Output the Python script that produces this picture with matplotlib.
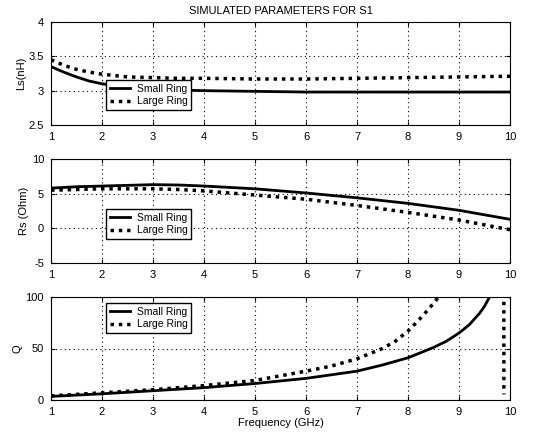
import matplotlib
matplotlib.use("Agg")
import matplotlib.pyplot as plt
import numpy as np

plt.rcParams['font.family'] = ['Liberation Sans', 'DejaVu Sans']
plt.rcParams['font.size'] = 8
plt.rcParams['axes.unicode_minus'] = False

# frequency points (GHz)
f = [1, 1.25, 1.5, 1.75, 2, 2.5, 3, 3.5, 4, 5, 6, 7, 8, 9, 10]

ls_small = [3.35, 3.27, 3.2, 3.14, 3.1, 3.05, 3.02, 3.01, 3.0, 2.99, 2.98, 2.98, 2.98, 2.98, 2.98]
ls_large = [3.45, 3.37, 3.31, 3.27, 3.24, 3.2, 3.19, 3.18, 3.18, 3.17, 3.17, 3.18, 3.19, 3.2, 3.21]

rs_small = [5.8, 5.9, 6.0, 6.05, 6.1, 6.2, 6.3, 6.25, 6.1, 5.7, 5.1, 4.4, 3.6, 2.6, 1.3]
rs_large = [5.5, 5.55, 5.6, 5.65, 5.7, 5.7, 5.7, 5.6, 5.4, 4.8, 4.2, 3.3, 2.3, 1.2, -0.2]

fq_small = [1, 2, 3, 4, 5, 6, 6.5, 7, 7.5, 8, 8.25, 8.5, 8.75, 9, 9.2, 9.4, 9.5, 9.6, 9.65]
q_small = [3.5, 6, 9, 12, 16, 21, 24.5, 28, 34, 41, 46, 51, 57, 65, 73, 84, 91, 100, 105]
fq_large = [1, 2, 3, 4, 5, 6, 6.5, 7, 7.5, 7.75, 8, 8.2, 8.4, 8.5, 8.6, 8.65, 9.88, 9.88]
q_large = [4, 7, 10, 14, 19, 28, 33, 40, 50, 57, 67, 77, 88, 94, 100, 105, 105, 5.4]

xticks = list(range(1, 11))

fig = plt.figure(figsize=(5.47, 4.34), dpi=100)

L, W = 51 / 547, (510 - 51) / 547
panels = [(22, 125), (159, 263), (297, 400)]
axes = []
for top, bot in panels:
    ax = fig.add_axes([L, 1 - bot / 434, W, (bot - top) / 434])
    axes.append(ax)


def style(ax, ylim, yticks):
    ax.set_xlim(1, 10)
    ax.set_ylim(*ylim)
    ax.set_xticks(xticks)
    ax.set_yticks(yticks)
    ax.grid(True, color='black', linestyle=(0, (1, 3)), linewidth=0.8)
    ax.tick_params(direction='in', length=3, top=True, right=True, pad=5)
    for s in ax.spines.values():
        s.set_linewidth(0.8)


def legend(ax, y_top):
    ax.legend(loc='upper left', bbox_to_anchor=(106 / 547, 1 - y_top / 434),
              bbox_transform=fig.transFigure, fancybox=False, framealpha=1,
              edgecolor='black', borderpad=0.35, handlelength=2.0,
              handletextpad=0.6, labelspacing=0.25, borderaxespad=0,
              fontsize=7.5)


ax = axes[0]
ax.plot(f, ls_small, color='black', lw=2, label='Small Ring')
ax.plot(f, ls_large, color='black', lw=2.5, ls=(0, (1, 1.4)), label='Large Ring')
style(ax, (2.5, 4), [2.5, 3, 3.5, 4])
ax.set_yticklabels(['2.5', '3', '3.5', '4'])
ax.set_ylabel('Ls(nH)', labelpad=2)
ax.set_title('SIMULATED PARAMETERS FOR S1', fontsize=8, pad=6)
legend(ax, 80)

ax = axes[1]
ax.plot(f, rs_small, color='black', lw=2, label='Small Ring')
ax.plot(f, rs_large, color='black', lw=2.5, ls=(0, (1, 1.4)), label='Large Ring')
style(ax, (-5, 10), [-5, 0, 5, 10])
ax.set_ylabel('Rs (Ohm)', labelpad=2)
legend(ax, 209)

ax = axes[2]
ax.plot(fq_small, q_small, color='black', lw=2, label='Small Ring')
ax.plot(fq_large, q_large, color='black', lw=2.5, ls=(0, (1, 1.4)), label='Large Ring')
style(ax, (0, 100), [0, 50, 100])
ax.set_ylabel('Q', labelpad=2)
ax.set_xlabel('Frequency (GHz)', labelpad=1)
legend(ax, 303)

fig.savefig('out.png', dpi=100)
